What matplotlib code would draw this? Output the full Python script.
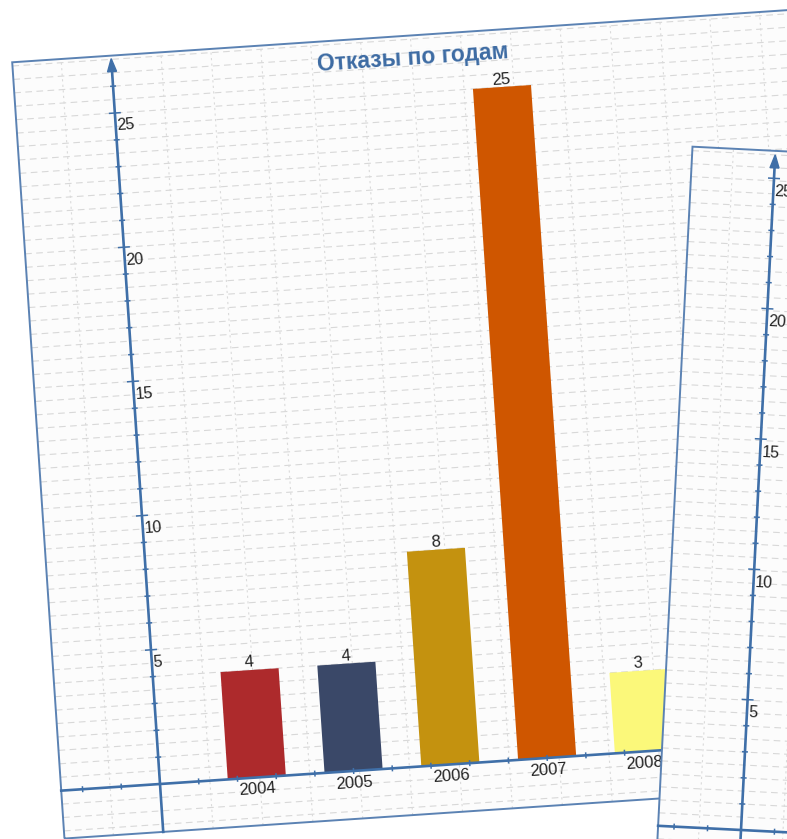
import numpy as np
import matplotlib
matplotlib.use("Agg")
import matplotlib.pyplot as plt
from matplotlib.transforms import Affine2D
from matplotlib.patches import Rectangle, Polygon
from matplotlib.collections import LineCollection

plt.rcParams['font.family'] = ['Liberation Sans', 'DejaVu Sans']

# chart data
title = 'Отказы по годам'
years = ['2004', '2005', '2006', '2007', '2008']
failures = [4, 4, 8, 25, 3]
bar_colors = ['#ad2a2c', '#3a4868', '#c4920f', '#cf5600', '#fbf87a']
y_ticks = [5, 10, 15, 20, 25]

AXIS_C = '#3f6fa8'
EDGE_C = '#5b82b3'
TEXT_C = '#222222'

W, H = 787, 839
fig = plt.figure(figsize=(W / 100, H / 100), dpi=100)
ax = fig.add_axes([0, 0, 1, 1])


def sheet(frame, x0, x1, y0, y1, hstep, vstep, z):
    """paper sheet with dashed grid, in the sheet's own pixel frame"""
    paper = Rectangle((x0, y0), x1 - x0, y1 - y0, transform=frame,
                      facecolor='#fcfcfc', edgecolor='none', zorder=z)
    ax.add_patch(paper)
    hy = np.arange(np.ceil(y0 / hstep) * hstep, y1, hstep)
    vx = np.arange(np.ceil(x0 / vstep) * vstep, x1, vstep)
    hl = LineCollection([[(x0, y), (x1, y)] for y in hy], colors='#d8d8d8',
                        linewidths=0.8, linestyles=[(0, (6, 4))],
                        transform=frame, zorder=z + 0.1)
    vl = LineCollection([[(x, y0), (x, y1)] for x in vx], colors='#dadada',
                        linewidths=0.8, linestyles=[(0, (2, 3))],
                        transform=frame, zorder=z + 0.1)
    for lc in (hl, vl):
        ax.add_collection(lc)
        lc.set_clip_path(paper)
    ax.add_patch(Rectangle((x0, y0), x1 - x0, y1 - y0, transform=frame,
                           facecolor='none', edgecolor=EDGE_C, lw=1.4, zorder=z + 0.2))


def axes_lines(frame, angle, x0, x1, y0, tip, vy, xstep, z):
    """axis arrow, minor/major ticks and y labels"""
    ax.plot([x0, x1], [0, 0], color=AXIS_C, lw=1.9, transform=frame, zorder=z)
    ax.plot([0, 0], [y0, tip - 10], color=AXIS_C, lw=1.9, transform=frame, zorder=z)
    ax.add_patch(Polygon([(0, tip), (-4.5, tip - 13), (4.5, tip - 13)], closed=True,
                         transform=frame, color=AXIS_C, zorder=z))
    segs = []
    for k in range(1, int((tip - 13) / vy) + 1):
        h = 6 if k % 5 == 0 else 3
        segs.append([(-h, k * vy), (h, k * vy)])
    for k in range(int(x0 / xstep), int(x1 / xstep) + 1):
        if k != 0:
            segs.append([(k * xstep, -3), (k * xstep, 3)])
    ax.add_collection(LineCollection(segs, colors=AXIS_C, linewidths=1.1,
                                     transform=frame, zorder=z))
    for t in y_ticks:
        ax.text(1.5, t * vy - 13, str(t), transform=frame, rotation=angle,
                rotation_mode='anchor', ha='left', va='center', fontsize=11.5,
                color=TEXT_C, zorder=z + 1)


# main sheet, tilted counter-clockwise
ang_a = 3.85
frame_a = Affine2D().rotate_deg(ang_a).translate(160, 55) + ax.transData
ux_a, vy_a = 97, 26.9
chart_a = Affine2D().scale(ux_a, vy_a) + frame_a

sheet(frame_a, -99, 1000, -48, 730, 13.45, 50, 1)

x = np.arange(1, len(years) + 1)
ax.bar(x, failures, width=0.6, color=bar_colors, transform=chart_a, zorder=3)
for xi, val, yr in zip(x, failures, years):
    ax.text(xi, val + 0.28, str(val), transform=chart_a, rotation=ang_a,
            rotation_mode='anchor', ha='center', va='center', fontsize=12,
            color=TEXT_C, zorder=5)
    ax.text(xi, -0.45, yr, transform=chart_a, rotation=ang_a,
            rotation_mode='anchor', ha='center', va='center', fontsize=12,
            color=TEXT_C, zorder=5)

axes_lines(frame_a, ang_a, -99, 1000, -48, 727, vy_a, 0.4 * ux_a, 4)
ax.text(301, 707, title, transform=frame_a, rotation=ang_a, rotation_mode='anchor',
        ha='center', va='center', fontsize=16.5, fontweight='bold', color='#3d6ba3',
        zorder=5)

# second sheet on top, tilted clockwise
ang_b = -2.9
frame_b = Affine2D().rotate_deg(ang_b).translate(741, 9) + ax.transData
sheet(frame_b, -83, 400, -60, 680, 13, 42, 10)
axes_lines(frame_b, ang_b, -83, 400, -60, 676, 26.1, 33.5, 11)

ax.set_xlim(0, W)
ax.set_ylim(0, H)
ax.axis('off')
fig.savefig('out.png', dpi=100, facecolor='white')
